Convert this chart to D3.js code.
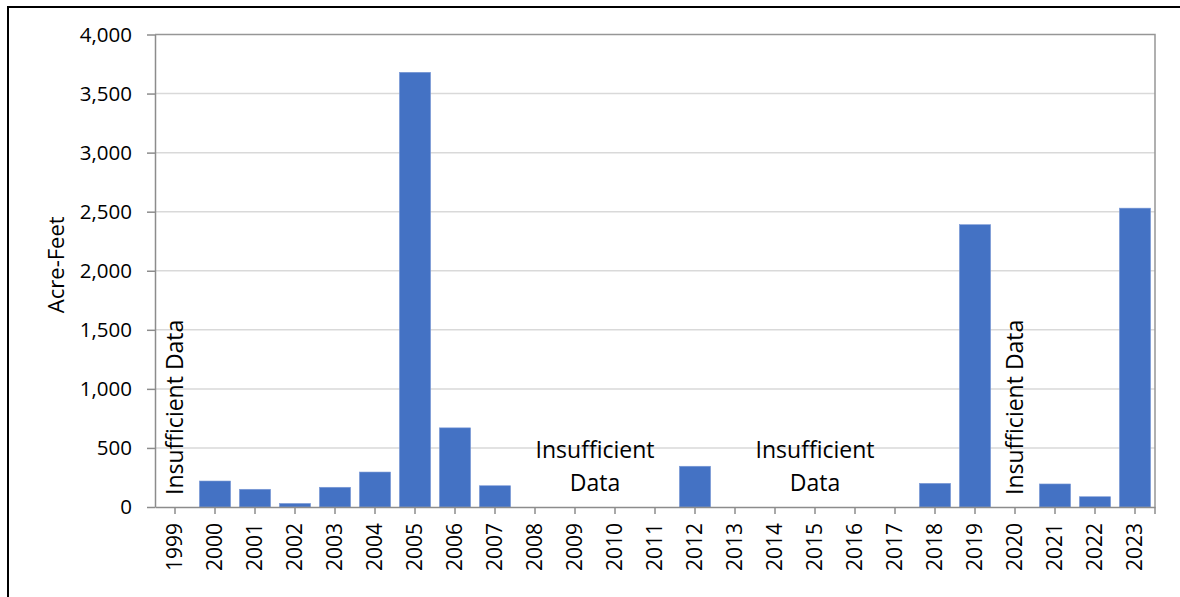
<!DOCTYPE html>
<html><head><meta charset="utf-8">
<script src="https://cdn.jsdelivr.net/npm/d3@7"></script>
<style>body{margin:0;background:#fff}svg{display:block}</style>
</head><body>
<svg id="c" width="1180" height="597"></svg>
<script>
const years = ["1999","2000","2001","2002","2003","2004","2005","2006","2007","2008","2009","2010","2011","2012","2013","2014","2015","2016","2017","2018","2019","2020","2021","2022","2023"];
const acreFeet = [null,220,150,30,167,296,3680,670,180,null,null,null,null,345,null,null,null,null,null,200,2390,null,195,87,2530];
const yTicks = [0,500,1000,1500,2000,2500,3000,3500,4000];
const verticalNotes = [{year:"1999", text:"Insufficient Data"},{year:"2020", text:"Insufficient Data"}];
const blockNotes = [{from:"2009", to:"2010", lines:["Insufficient","Data"]},{from:"2014", to:"2016", lines:["Insufficient","Data"]}];

const font = "'Open Sans', sans-serif";
const svg = d3.select("#c");
const m = {l:155, r:1155, t:34.5, b:507};

svg.append("rect").attr("x",8).attr("y",7).attr("width",1190).attr("height",600)
  .attr("fill","none").attr("stroke","#000").attr("stroke-width",2);

const x = d3.scaleBand().domain(years).range([m.l,m.r]).paddingInner(0.22).paddingOuter(0.11);
const y = d3.scaleLinear().domain([0,4000]).range([m.b,m.t]);

// gridlines
svg.append("g").selectAll("line").data(yTicks.slice(1,-1)).join("line")
  .attr("x1",m.l).attr("x2",m.r).attr("y1",d=>y(d)).attr("y2",d=>y(d))
  .attr("stroke","#d9d9d9").attr("stroke-width",1.5);

// bars
svg.append("g").selectAll("rect").data(years.map((yr,i)=>({yr,v:acreFeet[i]})).filter(d=>d.v!=null)).join("rect")
  .attr("x",d=>x(d.yr)).attr("width",x.bandwidth())
  .attr("y",d=>y(d.v)).attr("height",d=>m.b-y(d.v))
  .attr("fill","#4472c4").attr("stroke","#7c9ad6").attr("stroke-width",0.6);

// plot frame (top/right)
svg.append("path").attr("d",`M${m.l},${m.t}H${m.r}V${m.b}`).attr("fill","none").attr("stroke","#969696").attr("stroke-width",1.5);

// y axis
const ya = svg.append("g").attr("transform",`translate(${m.l},0)`)
  .call(d3.axisLeft(y).tickValues(yTicks).tickFormat(d3.format(",")).tickSize(8).tickSizeOuter(0).tickPadding(15));
ya.select(".domain").attr("stroke","#8c8c8c").attr("stroke-width",1.5);
ya.selectAll(".tick line").attr("stroke","#8c8c8c").attr("stroke-width",1.5);
ya.selectAll("text").attr("font-family",font).attr("font-size",20.5).attr("fill","#000");

// x axis
const xa = svg.append("g").attr("transform",`translate(0,${m.b})`)
  .call(d3.axisBottom(x).tickSize(7).tickSizeOuter(0).tickPadding(10));
xa.select(".domain").attr("stroke","#8c8c8c").attr("stroke-width",1.5);
xa.selectAll(".tick line").attr("stroke","#8c8c8c").attr("stroke-width",1.5);
xa.selectAll("text").attr("font-family",font).attr("font-size",21).attr("fill","#000")
  .attr("transform","rotate(-90)").attr("text-anchor","end").attr("dy","0.35em").attr("x",-16).attr("y",0);
xa.append("line").attr("x1",m.r).attr("x2",m.r).attr("y1",0).attr("y2",7).attr("stroke","#8c8c8c").attr("stroke-width",1.5);

// y title
svg.append("text").attr("transform",`translate(64,${(m.t+m.b)/2-6}) rotate(-90)`)
  .attr("text-anchor","middle").attr("font-family",font).attr("font-size",22).text("Acre-Feet");

// vertical notes
svg.append("g").selectAll("text").data(verticalNotes).join("text")
  .attr("transform",d=>`translate(${x(d.year)+x.bandwidth()/2+8},${m.b-12}) rotate(-90)`)
  .attr("font-family",font).attr("font-size",23).attr("text-anchor","start").text(d=>d.text);

// block notes
const bn = svg.append("g").selectAll("text").data(blockNotes).join("text")
  .attr("font-family",font).attr("font-size",23).attr("text-anchor","middle")
  .attr("transform",d=>`translate(${(x(d.from)+x(d.to)+x.bandwidth())/2},0)`);
bn.selectAll("tspan").data(d=>d.lines).join("tspan").attr("x",0).attr("y",(d,i)=>458+i*33).text(d=>d);
</script>
</body></html>
